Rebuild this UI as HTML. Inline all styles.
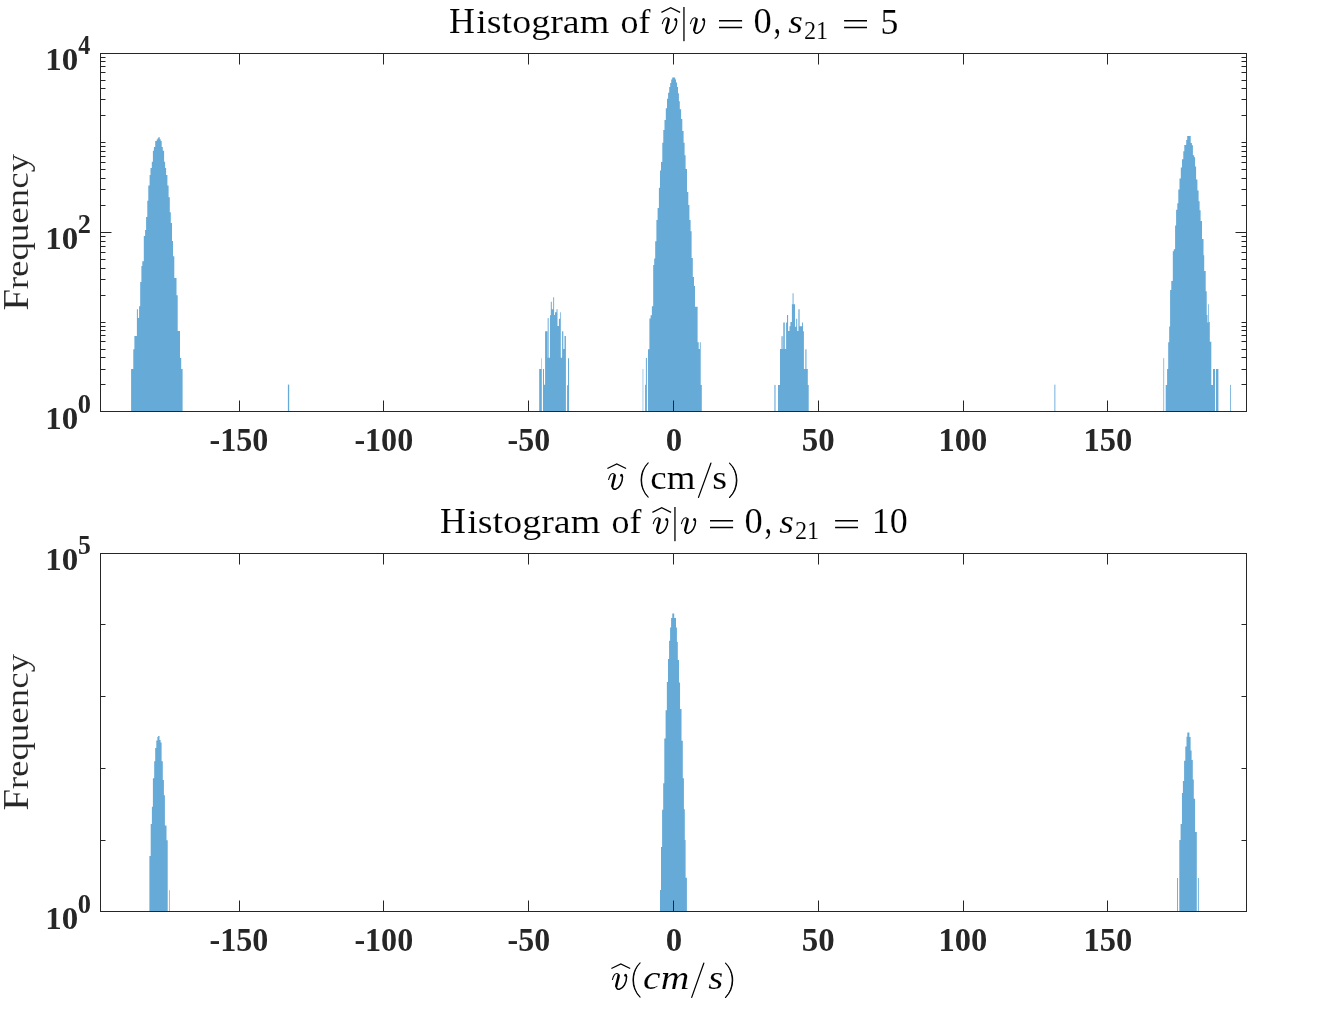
<!DOCTYPE html>
<html><head><meta charset="utf-8"><style>
html,body{margin:0;padding:0;background:#fff;width:1344px;height:1010px;overflow:hidden}
svg{display:block}
text{font-family:"Liberation Serif",serif}
</style></head><body>
<svg width="1344" height="1010" viewBox="0 0 1344 1010" font-family="Liberation Serif"><rect width="1344" height="1010" fill="#fff"/><rect x="642.5" y="369" width="0.9" height="42.5" fill="#9cc7e7"/><rect x="645" y="384.8" width="0.9" height="26.7" fill="#66aad7"/><rect x="645.9" y="357.9" width="1" height="53.6" fill="#66aad7"/><rect x="1163.1" y="358.1" width="1.1" height="53.4" fill="#9cc7e7"/><rect x="1216" y="369" width="2.4" height="42.5" fill="#66aad7"/><rect x="1230" y="384.9" width="0.8" height="26.6" fill="#66aad7"/><rect x="774.1" y="384.9" width="1.7" height="26.6" fill="#9cc7e7"/><rect x="781.2" y="336.2" width="2.1" height="75.3" fill="#9cc7e7"/><rect x="547.5" y="318.1" width="1.6" height="93.4" fill="#9cc7e7"/><rect x="805" y="349.3" width="1.7" height="62.2" fill="#9cc7e7"/><rect x="287.9" y="384.6" width="1.3" height="26.9" fill="#66aad7"/><rect x="1054.1" y="384.6" width="1.4" height="26.9" fill="#9cc7e7"/><path d="M131.1 411.5 L131.1 368.9 L133.3 368.9 L133.3 349.2 L134.4 349.2 L134.4 336 L136.9 336 L136.9 309.2 L137.9 309.2 L137.9 318.1 L139.1 318.1 L139.1 306.2 L140.2 306.2 L140.2 282 L141.4 282 L141.4 266.1 L142.3 266.1 L142.3 261.2 L143.8 261.2 L143.8 236 L145.1 236 L145.1 230 L146.1 230 L146.1 217.1 L147.3 217.1 L147.3 200.8 L148.3 200.8 L148.3 185.5 L149.6 185.5 L149.6 175.1 L150.5 175.1 L150.5 168.1 L151.8 168.1 L151.8 161.7 L152.9 161.7 L152.9 150.8 L153.9 150.8 L153.9 146.9 L155.2 146.9 L155.2 140.9 L156.7 140.9 L156.7 139.6 L157.6 139.6 L157.6 138.2 L158.4 138.2 L158.4 137.2 L159.8 137.2 L159.8 139.2 L160.7 139.2 L160.7 140.9 L161.7 140.9 L161.7 146.9 L162.8 146.9 L162.8 150.8 L164.1 150.8 L164.1 161.7 L165.1 161.7 L165.1 168.1 L166.1 168.1 L166.1 175.1 L167.4 175.1 L167.4 185.5 L168.6 185.5 L168.6 197.3 L169.8 197.3 L169.8 212.2 L170.8 212.2 L170.8 223.1 L172 223.1 L172 240.9 L173 240.9 L173 256.2 L174.3 256.2 L174.3 278 L176.5 278 L176.5 295.3 L177.7 295.3 L177.7 331.1 L180 331.1 L180 358.1 L181.2 358.1 L181.2 368.9 L182.6 368.9 L182.6 411.5 Z" fill="#66aad7"/><path d="M648 411.5 L648 349.3 L649.4 349.3 L649.4 318.5 L650.6 318.5 L650.6 315.2 L651.9 315.2 L651.9 306.2 L653.2 306.2 L653.2 265 L654.2 265 L654.2 258.5 L655.2 258.5 L655.2 241.3 L656.4 241.3 L656.4 219.9 L657.6 219.9 L657.6 208 L658.9 208 L658.9 187.8 L660 187.8 L660 170.5 L661 170.5 L661 162.1 L662.3 162.1 L662.3 142.8 L663.3 142.8 L663.3 130 L664.5 130 L664.5 120 L665.8 120 L665.8 108.2 L667 108.2 L667 98.8 L668.1 98.8 L668.1 92.8 L669.2 92.8 L669.2 86.9 L670.2 86.9 L670.2 82.9 L671.2 82.9 L671.2 79.5 L672.2 79.5 L672.2 77.5 L675.2 77.5 L675.2 79.5 L676 79.5 L676 82.4 L677 82.4 L677 86.9 L678 86.9 L678 93.3 L678.9 93.3 L678.9 101.2 L679.8 101.2 L679.8 109.2 L681.1 109.2 L681.1 119.1 L682.3 119.1 L682.3 130.9 L683.6 130.9 L683.6 142.8 L684.6 142.8 L684.6 155.2 L685.6 155.2 L685.6 169.1 L687 169.1 L687 192 L688.3 192 L688.3 205 L689.4 205 L689.4 219.9 L690.6 219.9 L690.6 231.2 L691.6 231.2 L691.6 257.9 L692.8 257.9 L692.8 276.9 L694 276.9 L694 286 L695 286 L695 306.7 L697.6 306.7 L697.6 342.2 L698.7 342.2 L698.7 348.9 L699.8 348.9 L699.8 342.2 L700.7 342.2 L700.7 385 L701.8 385 L701.8 411.5 Z" fill="#66aad7"/><path d="M1165.7 411.5 L1165.7 384.9 L1167.1 384.9 L1167.1 369 L1168.2 369 L1168.2 342.3 L1169.2 342.3 L1169.2 326.4 L1170.1 326.4 L1170.1 289.9 L1171.3 289.9 L1171.3 280.9 L1172.8 280.9 L1172.8 251.2 L1173.8 251.2 L1173.8 249.3 L1175.1 249.3 L1175.1 225.5 L1176.1 225.5 L1176.1 209.7 L1177.3 209.7 L1177.3 203.3 L1178.3 203.3 L1178.3 189.4 L1179.5 189.4 L1179.5 178.5 L1180.8 178.5 L1180.8 167.6 L1182 167.6 L1182 159.2 L1183.3 159.2 L1183.3 151.3 L1184.3 151.3 L1184.3 144.9 L1186.2 144.9 L1186.2 139.9 L1187.2 139.9 L1187.2 136.1 L1190.7 136.1 L1190.7 142.9 L1191.9 142.9 L1191.9 145.3 L1192.9 145.3 L1192.9 155.2 L1194.2 155.2 L1194.2 157.2 L1195.1 157.2 L1195.1 166.6 L1196.1 166.6 L1196.1 179.5 L1197.4 179.5 L1197.4 190.4 L1198.6 190.4 L1198.6 201.3 L1199.6 201.3 L1199.6 210.2 L1200.6 210.2 L1200.6 221.1 L1202 221.1 L1202 238.9 L1203.5 238.9 L1203.5 255.2 L1204.2 255.2 L1204.2 271 L1205.7 271 L1205.7 291.3 L1206.7 291.3 L1206.7 315.1 L1207.5 315.1 L1207.5 322.5 L1208.3 322.5 L1208.3 304.2 L1209 304.2 L1209 321.9 L1209.8 321.9 L1209.8 341.8 L1211.3 341.8 L1211.3 384.9 L1213 384.9 L1213 369 L1215 369 L1215 411.5 Z" fill="#66aad7"/><path d="M539.2 411.5 L539.2 368.9 L541.3 368.9 L541.3 358.2 L541.8 358.2 L541.8 411.5 Z" fill="#66aad7"/><path d="M543 411.5 L543 368.9 L544 368.9 L544 384.8 L545.1 384.8 L545.1 331.2 L547.6 331.2 L547.6 357.8 L550 357.8 L550 315.2 L550.8 315.2 L550.8 301.8 L551.8 301.8 L551.8 309.2 L553.2 309.2 L553.2 297.3 L554.1 297.3 L554.1 314.9 L555 314.9 L555 312.2 L556.5 312.2 L556.5 309.2 L557.5 309.2 L557.5 325.9 L558.9 325.9 L558.9 318.7 L560.1 318.7 L560.1 312.2 L560.8 312.2 L560.8 357.8 L562.1 357.8 L562.1 331.2 L563.3 331.2 L563.3 349 L564.5 349 L564.5 336 L565.9 336 L565.9 411.5 Z" fill="#66aad7"/><path d="M567.1 411.5 L567.1 385.2 L568 385.2 L568 358.2 L569 358.2 L569 411.5 Z" fill="#66aad7"/><path d="M778 411.5 L778 384.9 L780 384.9 L780 348.9 L781.2 348.9 L781.2 348.9 L783.3 348.9 L783.3 322.4 L784.8 322.4 L784.8 348.9 L786.1 348.9 L786.1 322.4 L787 322.4 L787 315 L788.1 315 L788.1 330.9 L789.5 330.9 L789.5 326.3 L790.4 326.3 L790.4 322 L791.9 322 L791.9 304.3 L792.6 304.3 L792.6 293.2 L793.5 293.2 L793.5 304.3 L795 304.3 L795 326.7 L796.2 326.7 L796.2 318.7 L797.2 318.7 L797.2 331 L798.4 331 L798.4 309.2 L799.6 309.2 L799.6 326.3 L802.1 326.3 L802.1 322.4 L803 322.4 L803 331.3 L803.9 331.3 L803.9 368.9 L805 368.9 L805 368.9 L806.7 368.9 L806.7 368.9 L807.8 368.9 L807.8 384.9 L808.7 384.9 L808.7 411.5 Z" fill="#66aad7"/><path d="M149.4 911.5 L149.4 856.1 L150.7 856.1 L150.7 824 L151.9 824 L151.9 806.7 L152.9 806.7 L152.9 778.2 L154.2 778.2 L154.2 761.2 L155.2 761.2 L155.2 748 L156.3 748 L156.3 740.4 L157.4 740.4 L157.4 736.9 L158.1 736.9 L158.1 735.9 L159.5 735.9 L159.5 740 L160.6 740 L160.6 742.5 L161.6 742.5 L161.6 761.2 L162.8 761.2 L162.8 780 L163.9 780 L163.9 795.2 L164.9 795.2 L164.9 825.4 L166.5 825.4 L166.5 840.2 L167.7 840.2 L167.7 911.5 Z" fill="#66aad7"/><path d="M660 911.5 L660 890.1 L661 890.1 L661 846.9 L662.1 846.9 L662.1 809.8 L663.2 809.8 L663.2 783.2 L664.3 783.2 L664.3 738.5 L665.6 738.5 L665.6 710.2 L666.85 710.2 L666.85 682.1 L668 682.1 L668 659 L669.1 659 L669.1 640.7 L670.1 640.7 L670.1 627.4 L671.1 627.4 L671.1 618 L672.3 618 L672.3 613.4 L674.2 613.4 L674.2 618 L676 618 L676 627.4 L676.9 627.4 L676.9 642 L677.8 642 L677.8 659.9 L679 659.9 L679 682.6 L680.05 682.6 L680.05 709.1 L681.5 709.1 L681.5 740.7 L682.8 740.7 L682.8 778.3 L683.9 778.3 L683.9 809.2 L684.8 809.2 L684.8 840 L685.6 840 L685.6 877.8 L686.9 877.8 L686.9 911.5 Z" fill="#66aad7"/><path d="M1179.3 911.5 L1179.3 839.9 L1180.6 839.9 L1180.6 823.9 L1181.95 823.9 L1181.95 792.9 L1182.9 792.9 L1182.9 781 L1184.1 781 L1184.1 760.8 L1185.3 760.8 L1185.3 746.6 L1186.5 746.6 L1186.5 736.7 L1187.3 736.7 L1187.3 732.4 L1189.4 732.4 L1189.4 737 L1190.6 737 L1190.6 750.5 L1191.6 750.5 L1191.6 760 L1192.8 760 L1192.8 779.4 L1193.8 779.4 L1193.8 798.8 L1195.1 798.8 L1195.1 831.9 L1196.8 831.9 L1196.8 911.5 Z" fill="#66aad7"/><rect x="169" y="890.2" width="0.7" height="21.3" fill="#66aad7"/><rect x="1177.1" y="878" width="0.9" height="33.5" fill="#66aad7"/><rect x="1197.9" y="878" width="0.9" height="33.5" fill="#66aad7"/><path d="M239.5 411.5 V400.5 M239.5 53.5 V64.5 M383.5 411.5 V400.5 M383.5 53.5 V64.5 M528.5 411.5 V400.5 M528.5 53.5 V64.5 M673.5 411.5 V400.5 M673.5 53.5 V64.5 M818.5 411.5 V400.5 M818.5 53.5 V64.5 M963.5 411.5 V400.5 M963.5 53.5 V64.5 M1107.5 411.5 V400.5 M1107.5 53.5 V64.5 M100.5 411.5 H111.5 M1246.5 411.5 H1235.5 M100.5 232.5 H111.5 M1246.5 232.5 H1235.5 M100.5 53.5 H111.5 M1246.5 53.5 H1235.5 M100.5 384.5 H105.5 M1246.5 384.5 H1241.5 M100.5 369.5 H105.5 M1246.5 369.5 H1241.5 M100.5 357.5 H105.5 M1246.5 357.5 H1241.5 M100.5 349.5 H105.5 M1246.5 349.5 H1241.5 M100.5 341.5 H105.5 M1246.5 341.5 H1241.5 M100.5 335.5 H105.5 M1246.5 335.5 H1241.5 M100.5 330.5 H105.5 M1246.5 330.5 H1241.5 M100.5 326.5 H105.5 M1246.5 326.5 H1241.5 M100.5 322.5 H105.5 M1246.5 322.5 H1241.5 M100.5 295.5 H105.5 M1246.5 295.5 H1241.5 M100.5 279.5 H105.5 M1246.5 279.5 H1241.5 M100.5 268.5 H105.5 M1246.5 268.5 H1241.5 M100.5 259.5 H105.5 M1246.5 259.5 H1241.5 M100.5 252.5 H105.5 M1246.5 252.5 H1241.5 M100.5 246.5 H105.5 M1246.5 246.5 H1241.5 M100.5 241.5 H105.5 M1246.5 241.5 H1241.5 M100.5 236.5 H105.5 M1246.5 236.5 H1241.5 M100.5 205.5 H105.5 M1246.5 205.5 H1241.5 M100.5 189.5 H105.5 M1246.5 189.5 H1241.5 M100.5 178.5 H105.5 M1246.5 178.5 H1241.5 M100.5 169.5 H105.5 M1246.5 169.5 H1241.5 M100.5 162.5 H105.5 M1246.5 162.5 H1241.5 M100.5 156.5 H105.5 M1246.5 156.5 H1241.5 M100.5 151.5 H105.5 M1246.5 151.5 H1241.5 M100.5 146.5 H105.5 M1246.5 146.5 H1241.5 M100.5 142.5 H105.5 M1246.5 142.5 H1241.5 M100.5 115.5 H105.5 M1246.5 115.5 H1241.5 M100.5 99.5 H105.5 M1246.5 99.5 H1241.5 M100.5 88.5 H105.5 M1246.5 88.5 H1241.5 M100.5 80.5 H105.5 M1246.5 80.5 H1241.5 M100.5 72.5 H105.5 M1246.5 72.5 H1241.5 M100.5 66.5 H105.5 M1246.5 66.5 H1241.5 M100.5 61.5 H105.5 M1246.5 61.5 H1241.5 M100.5 57.5 H105.5 M1246.5 57.5 H1241.5" stroke="#262626" stroke-width="1" fill="none"/><rect x="100.5" y="53.5" width="1146" height="358" stroke="#262626" stroke-width="1" fill="none"/><path d="M239.5 911.5 V900.5 M239.5 553.5 V564.5 M383.5 911.5 V900.5 M383.5 553.5 V564.5 M528.5 911.5 V900.5 M528.5 553.5 V564.5 M673.5 911.5 V900.5 M673.5 553.5 V564.5 M818.5 911.5 V900.5 M818.5 553.5 V564.5 M963.5 911.5 V900.5 M963.5 553.5 V564.5 M1107.5 911.5 V900.5 M1107.5 553.5 V564.5 M100.5 624.5 H105.5 M1246.5 624.5 H1241.5 M100.5 696.5 H105.5 M1246.5 696.5 H1241.5 M100.5 768.5 H105.5 M1246.5 768.5 H1241.5 M100.5 840.5 H105.5 M1246.5 840.5 H1241.5" stroke="#262626" stroke-width="1" fill="none"/><rect x="100.5" y="553.5" width="1146" height="358" stroke="#262626" stroke-width="1" fill="none"/><g style="filter:grayscale(1)"><text transform="matrix(0.32102 0 0 0.33037 209.476 451.170)" font-size="100" font-weight="bold" font-style="normal" fill="#262626">-150</text><text transform="matrix(0.32102 0 0 0.33037 354.376 451.170)" font-size="100" font-weight="bold" font-style="normal" fill="#262626">-100</text><text transform="matrix(0.31905 0 0 0.33037 507.583 451.170)" font-size="100" font-weight="bold" font-style="normal" fill="#262626">-50</text><text transform="matrix(0.32857 0 0 0.33037 665.786 451.170)" font-size="100" font-weight="bold" font-style="normal" fill="#262626">0</text><text transform="matrix(0.32935 0 0 0.33037 801.683 451.170)" font-size="100" font-weight="bold" font-style="normal" fill="#262626">50</text><text transform="matrix(0.32536 0 0 0.33037 938.397 451.170)" font-size="100" font-weight="bold" font-style="normal" fill="#262626">100</text><text transform="matrix(0.32536 0 0 0.33037 1083.397 451.170)" font-size="100" font-weight="bold" font-style="normal" fill="#262626">150</text><text transform="matrix(0.32102 0 0 0.33037 209.476 951.170)" font-size="100" font-weight="bold" font-style="normal" fill="#262626">-150</text><text transform="matrix(0.32102 0 0 0.33037 354.376 951.170)" font-size="100" font-weight="bold" font-style="normal" fill="#262626">-100</text><text transform="matrix(0.31905 0 0 0.33037 507.583 951.170)" font-size="100" font-weight="bold" font-style="normal" fill="#262626">-50</text><text transform="matrix(0.32857 0 0 0.33037 665.786 951.170)" font-size="100" font-weight="bold" font-style="normal" fill="#262626">0</text><text transform="matrix(0.32935 0 0 0.33037 801.683 951.170)" font-size="100" font-weight="bold" font-style="normal" fill="#262626">50</text><text transform="matrix(0.32536 0 0 0.33037 938.397 951.170)" font-size="100" font-weight="bold" font-style="normal" fill="#262626">100</text><text transform="matrix(0.32536 0 0 0.33037 1083.397 951.170)" font-size="100" font-weight="bold" font-style="normal" fill="#262626">150</text><text transform="matrix(0.32955 0 0 0.32593 45.264 69.874)" font-size="100" font-weight="bold" font-style="normal" fill="#262626">10</text><text transform="matrix(0.24086 0 0 0.26870 78.239 53.800)" font-size="100" font-weight="bold" font-style="normal" fill="#262626">4</text><text transform="matrix(0.32955 0 0 0.32593 45.264 248.974)" font-size="100" font-weight="bold" font-style="normal" fill="#262626">10</text><text transform="matrix(0.26265 0 0 0.26667 77.849 232.700)" font-size="100" font-weight="bold" font-style="normal" fill="#262626">2</text><text transform="matrix(0.32955 0 0 0.32593 45.264 428.974)" font-size="100" font-weight="bold" font-style="normal" fill="#262626">10</text><text transform="matrix(0.26429 0 0 0.27259 77.843 413.227)" font-size="100" font-weight="bold" font-style="normal" fill="#262626">0</text><text transform="matrix(0.32955 0 0 0.32593 45.264 569.774)" font-size="100" font-weight="bold" font-style="normal" fill="#262626">10</text><text transform="matrix(0.25647 0 0 0.26466 78.074 554.035)" font-size="100" font-weight="bold" font-style="normal" fill="#262626">5</text><text transform="matrix(0.32955 0 0 0.32593 45.264 928.974)" font-size="100" font-weight="bold" font-style="normal" fill="#262626">10</text><text transform="matrix(0.26429 0 0 0.27259 77.843 913.227)" font-size="100" font-weight="bold" font-style="normal" fill="#262626">0</text><text transform="matrix(0.35940 0 0 0.36489 448.922 32.900)" font-size="100" font-weight="normal" font-style="normal" fill="#000" stroke="#fff" stroke-width="0.33">H</text><text transform="matrix(0.38009 0 0 0.33404 476.240 32.900)" font-size="100" font-weight="normal" font-style="normal" fill="#000" stroke="#fff" stroke-width="0.34">istogram</text><text transform="matrix(0.35975 0 0 0.33404 620.561 32.900)" font-size="100" font-weight="normal" font-style="normal" fill="#000" stroke="#fff" stroke-width="0.35">of</text><path d="M661.40 12.40 L670.75 7.60 L680.10 12.40" stroke="#000" stroke-width="1.20" fill="none"/><path d="M662.33 23.66 C663.27 20.38 664.84 17.76 666.72 17.76 C667.98 17.76 668.76 18.58 668.61 20.05" stroke="#000" stroke-width="1.10" fill="none" stroke-linecap="round"/><path d="M668.61 19.56 C668.45 22.84 666.57 26.61 666.25 30.22" stroke="#000" stroke-width="2.50" fill="none" stroke-linecap="round"/><path d="M666.25 29.89 C665.94 32.68 667.67 33.34 669.39 33.34 C673.32 32.35 676.77 26.61 676.69 20.71" stroke="#000" stroke-width="1.50" fill="none" stroke-linecap="round"/><ellipse cx="675.67" cy="19.40" rx="1.35" ry="1.50" fill="#000"/><rect x="683.30" y="7.00" width="1.3" height="34.2" fill="#000"/><path d="M690.42 23.66 C691.34 20.38 692.88 17.76 694.73 17.76 C695.96 17.76 696.73 18.58 696.58 20.05" stroke="#000" stroke-width="1.10" fill="none" stroke-linecap="round"/><path d="M696.58 19.56 C696.42 22.84 694.57 26.61 694.27 30.22" stroke="#000" stroke-width="2.50" fill="none" stroke-linecap="round"/><path d="M694.27 29.89 C693.96 32.68 695.65 33.34 697.35 33.34 C701.20 32.35 704.58 26.61 704.51 20.71" stroke="#000" stroke-width="1.50" fill="none" stroke-linecap="round"/><ellipse cx="703.51" cy="19.40" rx="1.35" ry="1.50" fill="#000"/><path d="M719.00 20.80 H742.10 M719.00 27.50 H742.10" stroke="#000" stroke-width="1.40"/><text transform="matrix(0.36429 0 0 0.36741 753.543 33.433)" font-size="100" font-weight="normal" font-style="normal" fill="#000" stroke="#fff" stroke-width="0.33">0</text><text transform="matrix(0.30345 0 0 0.40784 773.586 33.382)" font-size="100" font-weight="normal" font-style="normal" fill="#000" stroke="#fff" stroke-width="0.34">,</text><text transform="matrix(0.37681 0 0 0.33542 788.335 33.165)" font-size="100" font-weight="normal" font-style="italic" fill="#000" stroke="#fff" stroke-width="0.34">s</text><text transform="matrix(0.24246 0 0 0.25758 803.909 38.800)" font-size="100" font-weight="normal" font-style="normal" fill="#000" stroke="#fff" stroke-width="0.48">21</text><path d="M844.10 20.80 H867.00 M844.10 27.50 H867.00" stroke="#000" stroke-width="1.40"/><text transform="matrix(0.35750 0 0 0.36842 880.555 33.532)" font-size="100" font-weight="normal" font-style="normal" fill="#000" stroke="#fff" stroke-width="0.33">5</text><text transform="matrix(0.35940 0 0 0.36489 439.922 532.900)" font-size="100" font-weight="normal" font-style="normal" fill="#000" stroke="#fff" stroke-width="0.33">H</text><text transform="matrix(0.38009 0 0 0.33404 467.240 532.900)" font-size="100" font-weight="normal" font-style="normal" fill="#000" stroke="#fff" stroke-width="0.34">istogram</text><text transform="matrix(0.35975 0 0 0.33404 611.561 532.900)" font-size="100" font-weight="normal" font-style="normal" fill="#000" stroke="#fff" stroke-width="0.35">of</text><path d="M652.40 512.40 L661.75 507.60 L671.10 512.40" stroke="#000" stroke-width="1.20" fill="none"/><path d="M653.33 523.66 C654.27 520.38 655.84 517.76 657.72 517.76 C658.98 517.76 659.76 518.58 659.61 520.05" stroke="#000" stroke-width="1.10" fill="none" stroke-linecap="round"/><path d="M659.61 519.56 C659.45 522.84 657.57 526.61 657.25 530.22" stroke="#000" stroke-width="2.50" fill="none" stroke-linecap="round"/><path d="M657.25 529.89 C656.94 532.68 658.67 533.34 660.39 533.34 C664.32 532.35 667.77 526.61 667.69 520.71" stroke="#000" stroke-width="1.50" fill="none" stroke-linecap="round"/><ellipse cx="666.67" cy="519.40" rx="1.35" ry="1.50" fill="#000"/><rect x="674.30" y="507.00" width="1.3" height="34.2" fill="#000"/><path d="M681.42 523.66 C682.34 520.38 683.88 517.76 685.73 517.76 C686.96 517.76 687.73 518.58 687.58 520.05" stroke="#000" stroke-width="1.10" fill="none" stroke-linecap="round"/><path d="M687.58 519.56 C687.42 522.84 685.57 526.61 685.27 530.22" stroke="#000" stroke-width="2.50" fill="none" stroke-linecap="round"/><path d="M685.27 529.89 C684.96 532.68 686.65 533.34 688.35 533.34 C692.20 532.35 695.58 526.61 695.51 520.71" stroke="#000" stroke-width="1.50" fill="none" stroke-linecap="round"/><ellipse cx="694.51" cy="519.40" rx="1.35" ry="1.50" fill="#000"/><path d="M710.00 520.80 H733.10 M710.00 527.50 H733.10" stroke="#000" stroke-width="1.40"/><text transform="matrix(0.36429 0 0 0.36741 744.543 533.433)" font-size="100" font-weight="normal" font-style="normal" fill="#000" stroke="#fff" stroke-width="0.33">0</text><text transform="matrix(0.30345 0 0 0.40784 764.586 533.382)" font-size="100" font-weight="normal" font-style="normal" fill="#000" stroke="#fff" stroke-width="0.34">,</text><text transform="matrix(0.37681 0 0 0.33542 779.335 533.165)" font-size="100" font-weight="normal" font-style="italic" fill="#000" stroke="#fff" stroke-width="0.34">s</text><text transform="matrix(0.24246 0 0 0.25758 794.909 538.800)" font-size="100" font-weight="normal" font-style="normal" fill="#000" stroke="#fff" stroke-width="0.48">21</text><path d="M835.10 520.80 H858.00 M835.10 527.50 H858.00" stroke="#000" stroke-width="1.40"/><text transform="matrix(0.35977 0 0 0.35704 871.662 533.243)" font-size="100" font-weight="normal" font-style="normal" fill="#000" stroke="#fff" stroke-width="0.33">10</text><text transform="translate(28.300 310.788) rotate(-90) scale(0.39592 0.35267)" font-size="100" font-weight="normal" font-style="normal" fill="#262626" stroke="#fff" stroke-width="0.32">F</text><text transform="translate(28.300 289.340) rotate(-90) scale(0.36978 0.30851)" font-size="100" font-weight="normal" font-style="normal" fill="#262626" stroke="#fff" stroke-width="0.35">requency</text><text transform="translate(28.300 810.788) rotate(-90) scale(0.39592 0.35267)" font-size="100" font-weight="normal" font-style="normal" fill="#262626" stroke="#fff" stroke-width="0.32">F</text><text transform="translate(28.300 789.340) rotate(-90) scale(0.36978 0.30851)" font-size="100" font-weight="normal" font-style="normal" fill="#262626" stroke="#fff" stroke-width="0.35">requency</text><path d="M607.40 468.50 L616.75 463.90 L626.10 468.50" stroke="#000" stroke-width="1.20" fill="none"/><path d="M608.61 479.54 C609.52 476.22 611.04 473.56 612.86 473.56 C614.08 473.56 614.84 474.39 614.69 475.89" stroke="#000" stroke-width="1.10" fill="none" stroke-linecap="round"/><path d="M614.69 475.39 C614.54 478.71 612.71 482.53 612.41 486.18" stroke="#000" stroke-width="2.50" fill="none" stroke-linecap="round"/><path d="M612.41 485.85 C612.10 488.67 613.78 489.33 615.45 489.33 C619.25 488.34 622.59 482.53 622.52 476.55" stroke="#000" stroke-width="1.50" fill="none" stroke-linecap="round"/><ellipse cx="621.53" cy="475.22" rx="1.35" ry="1.50" fill="#000"/><path d="M648.20 462.90 C638.73 472.48 638.73 487.52 648.20 497.10" stroke="#000" stroke-width="1.10" fill="none" stroke-linecap="round"/><path d="M648.20 462.90 C638.73 472.48 638.73 487.52 648.20 497.10 C640.07 487.52 640.07 472.48 648.20 462.90 Z" fill="#000"/><text transform="matrix(0.36910 0 0 0.34167 650.324 488.958)" font-size="100" font-weight="normal" font-style="normal" fill="#000" stroke="#fff" stroke-width="0.34">cm</text><path d="M698.50 497.40 L710.90 463.20" stroke="#000" stroke-width="1.25" stroke-linecap="round"/><text transform="matrix(0.38095 0 0 0.34167 712.276 489.058)" font-size="100" font-weight="normal" font-style="normal" fill="#000" stroke="#fff" stroke-width="0.33">s</text><path d="M729.50 463.10 C739.37 472.73 739.37 487.87 729.50 497.50" stroke="#000" stroke-width="1.10" fill="none" stroke-linecap="round"/><path d="M729.50 463.10 C739.37 472.73 739.37 487.87 729.50 497.50 C738.03 487.87 738.03 472.73 729.50 463.10 Z" fill="#000"/><path d="M611.40 968.50 L620.80 963.90 L630.20 968.50" stroke="#000" stroke-width="1.20" fill="none"/><path d="M612.42 979.54 C613.35 976.22 614.90 973.56 616.76 973.56 C618.00 973.56 618.77 974.39 618.62 975.89" stroke="#000" stroke-width="1.10" fill="none" stroke-linecap="round"/><path d="M618.62 975.39 C618.46 978.71 616.60 982.53 616.29 986.18" stroke="#000" stroke-width="2.50" fill="none" stroke-linecap="round"/><path d="M616.29 985.85 C615.98 988.67 617.69 989.33 619.39 989.33 C623.27 988.34 626.68 982.53 626.60 976.55" stroke="#000" stroke-width="1.50" fill="none" stroke-linecap="round"/><ellipse cx="625.59" cy="975.22" rx="1.35" ry="1.50" fill="#000"/><path d="M640.10 962.90 C630.63 972.48 630.63 987.52 640.10 997.10" stroke="#000" stroke-width="1.10" fill="none" stroke-linecap="round"/><path d="M640.10 962.90 C630.63 972.48 630.63 987.52 640.10 997.10 C631.97 987.52 631.97 972.48 640.10 962.90 Z" fill="#000"/><text transform="matrix(0.39635 0 0 0.34375 643.111 989.056)" font-size="100" font-weight="normal" font-style="italic" fill="#000" stroke="#fff" stroke-width="0.32">cm</text><path d="M691.70 997.40 L703.80 963.20" stroke="#000" stroke-width="1.25" stroke-linecap="round"/><text transform="matrix(0.38551 0 0 0.34583 708.222 989.254)" font-size="100" font-weight="normal" font-style="italic" fill="#000" stroke="#fff" stroke-width="0.33">s</text><path d="M725.50 963.10 C735.10 972.73 735.10 987.87 725.50 997.50" stroke="#000" stroke-width="1.10" fill="none" stroke-linecap="round"/><path d="M725.50 963.10 C735.10 972.73 735.10 987.87 725.50 997.50 C733.77 987.87 733.77 972.73 725.50 963.10 Z" fill="#000"/></g></svg>
</body></html>
